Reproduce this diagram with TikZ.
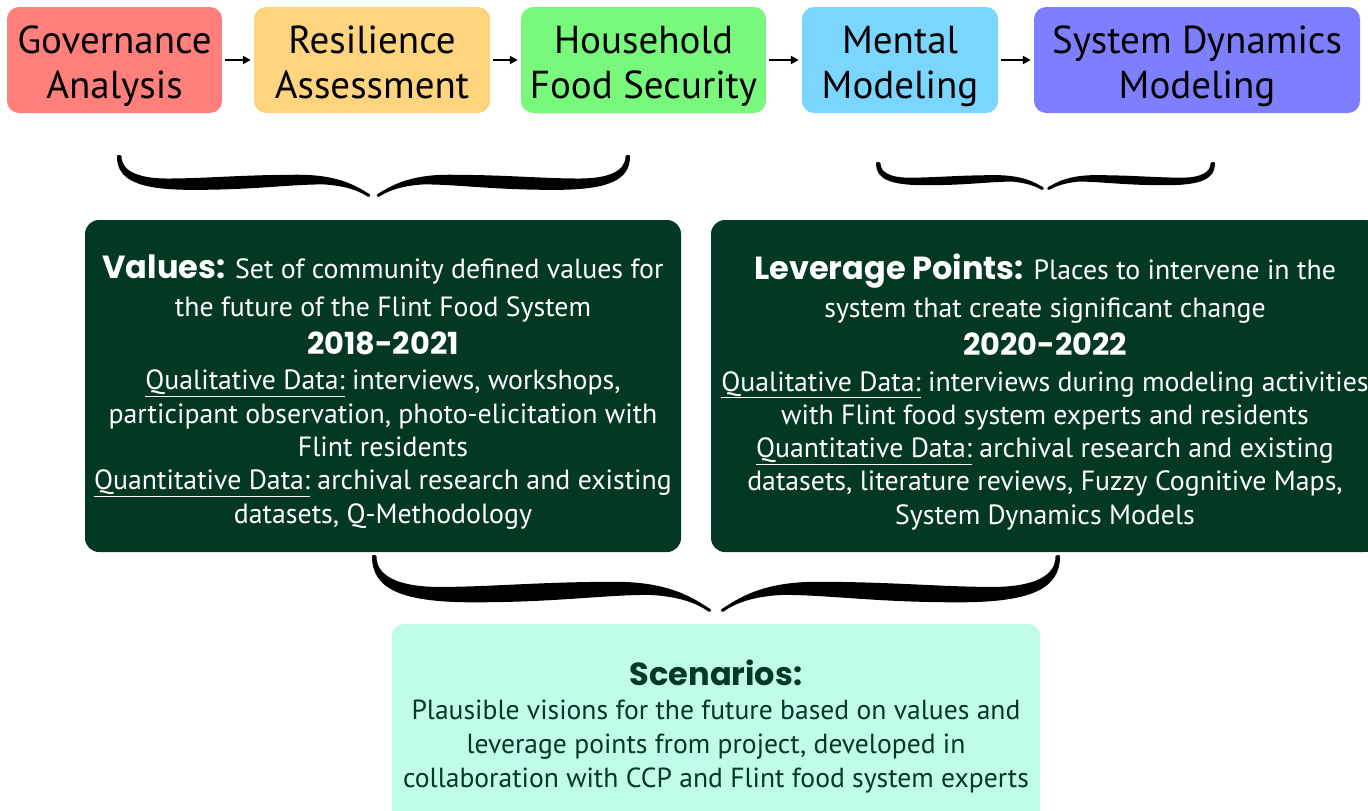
\documentclass[tikz,border=0pt]{standalone}
\usepackage{fontspec}
\setmainfont{PT Sans}
\newfontfamily\heavy{Poppins}
\usetikzlibrary{arrows.meta}
\definecolor{cgov}{HTML}{FF7F7B}
\definecolor{cres}{HTML}{FFD47F}
\definecolor{chou}{HTML}{78F97B}
\definecolor{cmen}{HTML}{7AD6FF}
\definecolor{csdm}{HTML}{7D7FFF}
\definecolor{dgreen}{HTML}{033823}
\definecolor{mint}{HTML}{BFFCEA}
\tikzset{
  stage/.style={rounded corners=12pt, minimum height=106pt, inner sep=0pt},
  stagetext/.style={align=center, font=\fontsize{39}{45}\selectfont, inner sep=0pt, text=black},
  darkbox/.style={fill=dgreen, rounded corners=14pt, inner sep=0pt, minimum height=332pt},
  darktext/.style={text=white, align=center, font=\fontsize{27.8}{33.3}\selectfont, inner sep=0pt},
  scenbox/.style={fill=mint, rounded corners=12pt, text=dgreen, align=center,
    font=\fontsize{27.6}{34}\selectfont, inner sep=0pt},
  flow/.style={-{Triangle[length=8pt,width=8pt]}, line width=2pt, shorten <=3pt, shorten >=3pt},
  halfbrace/.style={fill=black, draw=black, line width=3pt, line join=round},
  pics/cbr/.style 2 args={code={
    \pgfmathsetmacro\hW{#1/2-0.11*#2}\pgfmathsetmacro\bA{#2}
    \foreach \sx/\ox in {1/0,-1/#1}{
      \begin{scope}[shift={(\ox,0)}, xscale=\sx]
      \path[halfbrace] (1.5,1.5)
        .. controls (1.5,{0.55*\bA}) and ({0.08*\hW},{0.83*\bA-1.5}) .. ({0.3*\hW},{0.83*\bA-1.5})
        .. controls ({0.55*\hW},{0.83*\bA-1.5}) and ({0.68*\hW},{0.70*\bA-1.5}) .. ({0.82*\hW},{0.70*\bA-1.5})
        .. controls ({0.92*\hW},{0.70*\bA}) and ({0.97*\hW},{0.85*\bA}) .. (\hW,{\bA-1.5})
        .. controls ({0.95*\hW},{0.78*\bA}) and ({0.88*\hW},{0.47*\bA+1.5}) .. ({0.72*\hW},{0.47*\bA+1.5})
        .. controls ({0.5*\hW},{0.47*\bA+1.5}) and ({0.35*\hW},{0.56*\bA+1.5}) .. ({0.2*\hW},{0.56*\bA+1.5})
        .. controls ({0.08*\hW},{0.56*\bA+1.5}) and (3,{0.4*\bA}) .. (3,1.5) -- cycle;
      \end{scope}
    }
  }},
}
\newcommand{\hdr}[1]{{\heavy\bfseries\fontsize{32}{36}\selectfont #1}}
\newcommand{\yr}[1]{{\heavy\bfseries\fontsize{30.4}{34}\selectfont #1}}
\begin{document}
\begin{tikzpicture}[x=1pt,y=-1pt]
\useasboundingbox (0,0) rectangle (1368,811);
% top stages
\node[stage, fill=cgov, minimum width=215pt] (gov) at (114.5,60) {};
\node[stage, fill=cres, minimum width=236pt] (res) at (372,60) {};
\node[stage, fill=chou, minimum width=245pt] (hou) at (643.5,60) {};
\node[stage, fill=cmen, minimum width=196pt] (men) at (900,60) {};
\node[stage, fill=csdm, minimum width=326pt] (sdm) at (1197,60) {};
\node[stagetext] (govt) at ([yshift=-6pt]gov.center) {Governance\\Analysis};
\node[stagetext] (rest) at ([yshift=-6pt]res.center) {Resilience\\Assessment\vphantom{y}};
\node[stagetext] (hout) at ([yshift=-6pt]hou.center) {Household\\Food Security};
\node[stagetext] (ment) at ([yshift=-6pt]men.center) {Mental\\Modeling};
\node[stagetext] (sdmt) at ([yshift=-6pt]sdm.center) {System Dynamics\\Modeling};
\draw[flow] (gov) -- (res);
\draw[flow] (res) -- (hou);
\draw[flow] (hou) -- (men);
\draw[flow] (men) -- (sdm);
% dark boxes
\node[darkbox, minimum width=596pt] (val) at (383,386) {};
\node[darkbox, minimum width=668pt] (lev) at (1045,386) {};
\node[darktext] (valt) at ([yshift=-6pt]val.center) {%
\hdr{Values:} Set of community defined values for\\[5pt]
the future of the Flint Food System\\[4pt]
\yr{2018-2021}\\[2.5pt]
\underline{Qualitative Data:} interviews, workshops,\\
participant observation, photo-elicitation with\\
Flint residents\\
\underline{Quantitative Data:} archival research and existing\\
datasets, Q-Methodology};
\node[darktext] (levt) at ([yshift=-6pt]lev.center) {%
\hdr{Leverage Points:} Places to intervene in the\\[5pt]
system that create significant change\\[4pt]
\yr{2020-2022}\\[2.5pt]
\underline{Qualitative Data:} interviews during modeling activities\\
with Flint food system experts and residents\\
\underline{Quantitative Data:} archival research and existing\\
datasets, literature reviews, Fuzzy Cognitive Maps,\\
System Dynamics Models};
% scenarios
\node[scenbox, minimum width=648pt, minimum height=206pt] (scn) at (716,727) {%
\hdr{Scenarios:}\\
Plausible visions for the future based on values and\\
leverage points from project, developed in\\
collaboration with CCP and Flint food system experts};
% braces
\coordinate (b1l) at (117,155);
\coordinate (b2l) at (876,162);
\coordinate (b3l) at (372,555);
\pic (br1) at (b1l) {cbr={513}{42}};
\pic (br2) at (b2l) {cbr={339}{28}};
\pic (br3) at (b3l) {cbr={688}{57}};
\end{tikzpicture}
\end{document}
